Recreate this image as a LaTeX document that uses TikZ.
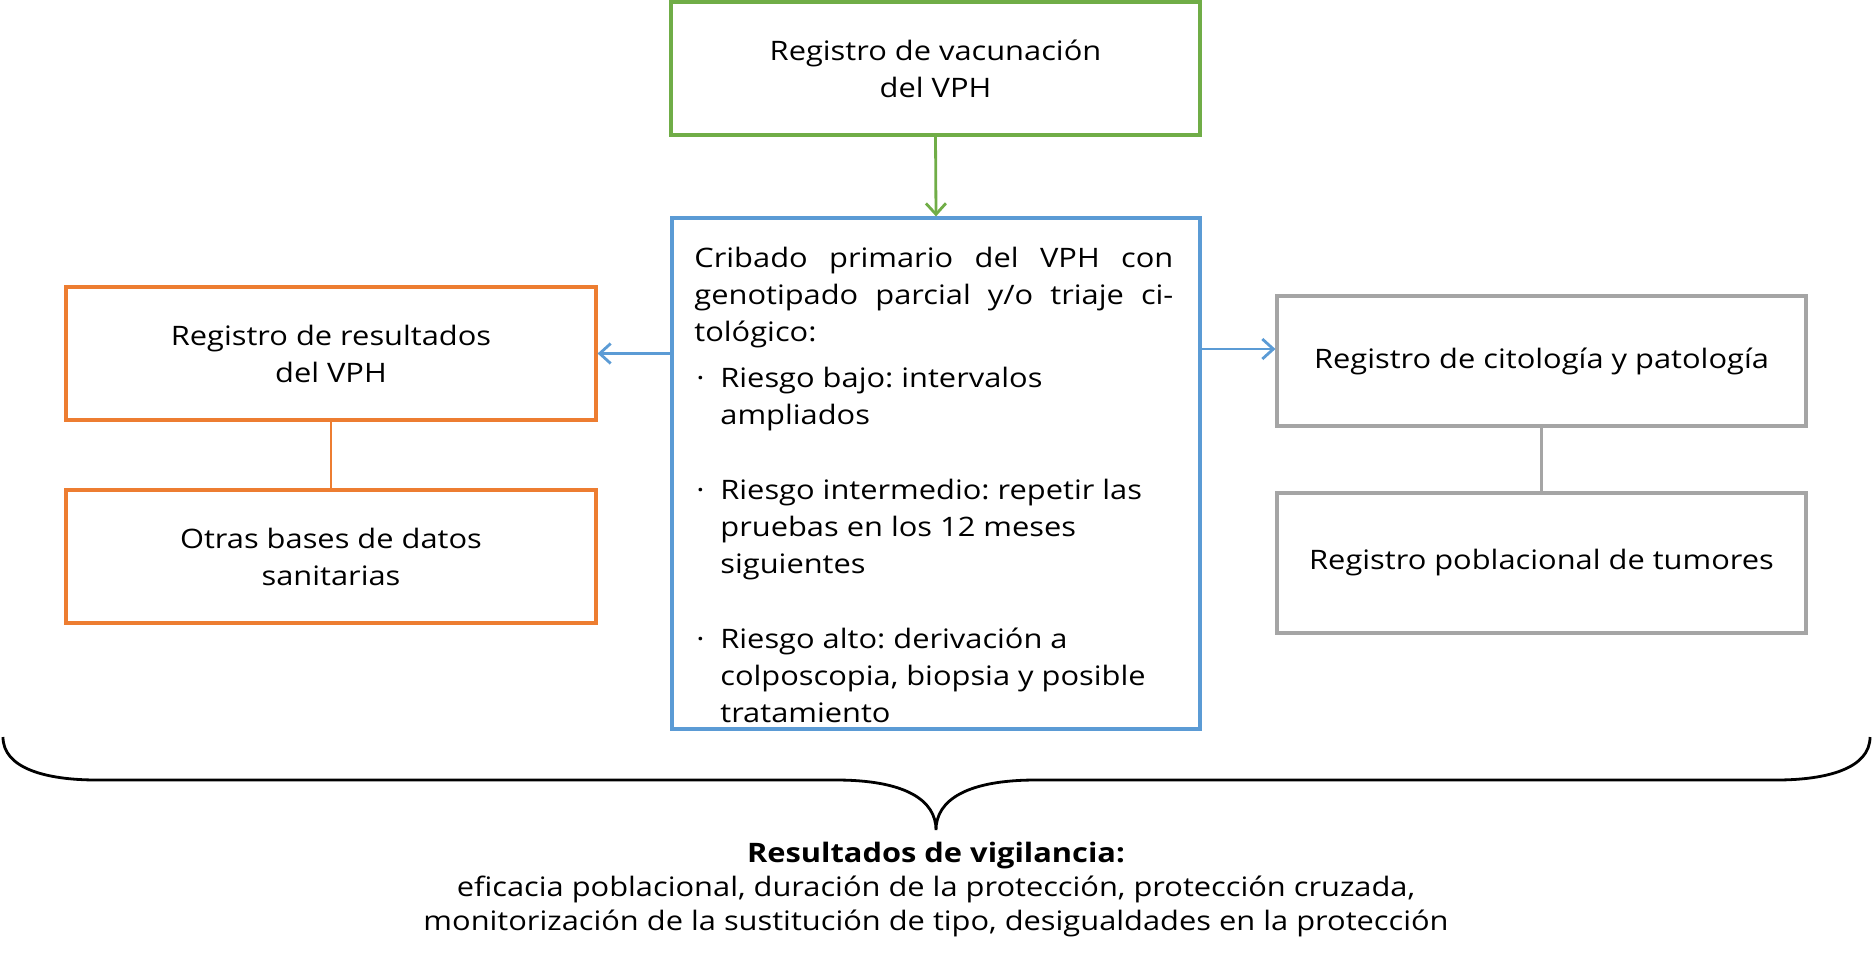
\documentclass[tikz,border=0pt]{standalone}
\usepackage{fontspec}
\setmainfont{Open Sans}[FakeStretch=1.15]
\usetikzlibrary{arrows.meta}
\definecolor{cgreen}{HTML}{70AD47}
\definecolor{cblue}{HTML}{5B9BD5}
\definecolor{corange}{HTML}{ED7D31}
\definecolor{cgray}{HTML}{A5A5A5}
\newcommand\fs{\fontsize{13.4pt}{18.5pt}\selectfont\frenchspacing}
\newcommand\fsb{\fontsize{13.4pt}{17pt}\selectfont\frenchspacing}
\tikzset{
  box/.style={draw, line width=1.6pt, inner sep=0pt, align=center, font=\fs},
  arr/.style={-{Straight Barb[length=5.5pt,width=10pt]}, line width=1.4pt},
  link/.style={line width=1.4pt}
}
\begin{document}
\begin{tikzpicture}[x=0.5pt,y=-0.5pt]
\useasboundingbox (0,0) rectangle (1873,960);
% boxes
\node[box, draw=cgreen, minimum width=264.5pt, minimum height=66.5pt] (vac) at (935.5,68.5) {Registro de vacunación\\del VPH};
\node[box, draw=cblue, minimum width=264pt, minimum height=255.5pt] (crib) at (936,473.5) {};
\node[box, draw=corange, minimum width=265pt, minimum height=66.5pt] (res) at (331,353.5) {Registro de resultados\\del VPH};
\node[box, draw=corange, minimum width=265pt, minimum height=66.5pt] (otras) at (331,556.5) {Otras bases de datos\\sanitarias};
\node[box, draw=cgray, minimum width=264.5pt, minimum height=65pt] (cito) at (1541.5,361) {Registro de citología y patología};
\node[box, draw=cgray, minimum width=264.5pt, minimum height=70pt] (tum) at (1541.5,563) {Registro poblacional de tumores};
% text of the screening box
\node[anchor=north west, text width=239.5pt, inner sep=0pt, align=justify, font=\fs] (cribtext) at (694,247) {%
\tolerance=10000\parindent=0pt\parskip=0pt
Cribado primario del VPH con\linebreak genotipado parcial y/o triaje ci-\linebreak tológico:\par
\vspace{4.5pt}%
\hangindent=13pt\hangafter=1 \makebox[13pt][l]{\hspace{1pt}·}Riesgo bajo: intervalos\\ampliados\par
\vspace{19pt}%
\hangindent=13pt\hangafter=1 \makebox[13pt][l]{\hspace{1pt}·}Riesgo intermedio: repetir las\\pruebas en los 12 meses\\siguientes\par
\vspace{19pt}%
\hangindent=13pt\hangafter=1 \makebox[13pt][l]{\hspace{1pt}·}Riesgo alto: derivación a\\colposcopia, biopsia y posible\\tratamiento\par};
% connectors
\coordinate (ra) at (0,349);
\draw[arr, cgreen] (vac.south) -- (crib.north);
\draw[arr, cblue] (crib.west |- res.east) -- (res.east);
\draw[arr, cblue] (crib.east |- ra) -- (cito.west |- ra);
\draw[link, corange] (res.south) -- (otras.north);
\draw[link, cgray] (cito.south) -- (tum.north);
% brace
\draw[line width=1.4pt] (3,737) .. controls (3,768) and (45,780) .. (97,780) -- (836,780)
  .. controls (905,780) and (936,800) .. (936,830)
  .. controls (936,800) and (967,780) .. (1036,780) -- (1776,780)
  .. controls (1828,780) and (1870,768) .. (1870,737);
% result text
\node[align=center, font=\fsb, inner sep=0pt] (out) at (936,890) {\textbf{Resultados de vigilancia:}\\eficacia poblacional, duración de la protección, protección cruzada,\\monitorización de la sustitución de tipo, desigualdades en la protección};
\end{tikzpicture}
\end{document}
